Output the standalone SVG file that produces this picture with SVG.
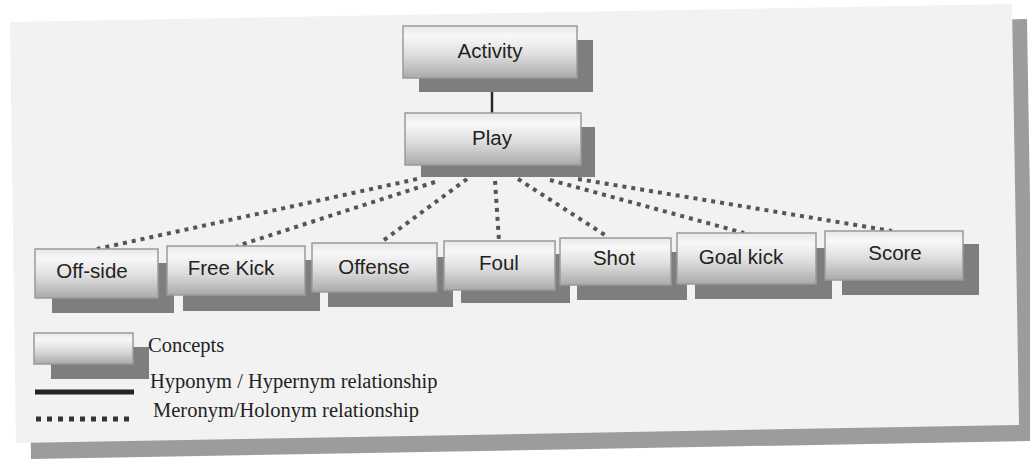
<svg xmlns="http://www.w3.org/2000/svg" width="1030" height="460" viewBox="0 0 1030 460">
  <defs>
    <linearGradient id="boxGrad" x1="0" y1="0" x2="0" y2="1">
      <stop offset="0" stop-color="#e8e8e8"/>
      <stop offset="0.2" stop-color="#f8f8f8"/>
      <stop offset="0.55" stop-color="#dedede"/>
      <stop offset="1" stop-color="#aaaaaa"/>
    </linearGradient>
    <style>
      .panel { fill: #f2f2f2; }
      .panelShadow { fill: #9c9c9c; }
      .shadow { fill: #7e7e7e; }
      .box { fill: url(#boxGrad); stroke: #9a9a9a; stroke-width: 1.5; }
      .label { font-family: "Liberation Sans", Arial, sans-serif; font-size: 20.5px; fill: #222; text-anchor: middle; }
      .legend { font-family: "Liberation Serif", "Times New Roman", serif; font-size: 20.5px; fill: #222; }
      .solid { stroke: #2a2a2a; stroke-width: 2.5; fill: none; }
      .dotted { stroke: #555; stroke-width: 4; stroke-dasharray: 4 5; fill: none; }
    </style>
  </defs>

  <rect width="1030" height="460" fill="#ffffff"/>

  <g id="panel">
    <polygon class="panelShadow" points="25,38 1027,19 1034,441 31,459"/>
    <polygon class="panel" points="10,22 1012,4 1019,425 16,443"/>
  </g>

  <g id="connectors">
    <line class="solid" x1="492" y1="78" x2="492" y2="113"/>
    <line class="dotted" x1="417" y1="179" x2="97" y2="249"/>
    <line class="dotted" x1="435" y1="182" x2="237" y2="246"/>
    <line class="dotted" x1="467" y1="179" x2="380" y2="243"/>
    <line class="dotted" x1="495" y1="181" x2="499" y2="241"/>
    <line class="dotted" x1="518" y1="179" x2="608" y2="237"/>
    <line class="dotted" x1="550" y1="180" x2="744" y2="233"/>
    <line class="dotted" x1="578" y1="179" x2="892" y2="231"/>
  </g>

  <g id="node-activity">
    <rect class="shadow" x="419" y="40" width="174" height="52"/>
    <rect class="box" x="403" y="26" width="174" height="52"/>
    <text class="label" x="490" y="58">Activity</text>
  </g>

  <g id="node-play">
    <rect class="shadow" x="421" y="127" width="174" height="50"/>
    <rect class="box" x="405" y="113" width="176" height="52"/>
    <text class="label" x="492" y="145">Play</text>
  </g>

  <g id="node-offside">
    <rect class="shadow" x="52" y="263" width="122" height="50"/>
    <rect class="box" x="35" y="249" width="123" height="49"/>
    <text class="label" x="92" y="278">Off-side</text>
  </g>

  <g id="node-freekick">
    <rect class="shadow" x="183" y="260" width="137" height="51"/>
    <rect class="box" x="167" y="246" width="138" height="49"/>
    <text class="label" x="231" y="275">Free Kick</text>
  </g>

  <g id="node-offense">
    <rect class="shadow" x="328" y="257" width="125" height="50"/>
    <rect class="box" x="312" y="243" width="125" height="49"/>
    <text class="label" x="374" y="274">Offense</text>
  </g>

  <g id="node-foul">
    <rect class="shadow" x="461" y="254" width="109" height="49"/>
    <rect class="box" x="444" y="241" width="111" height="49"/>
    <text class="label" x="499" y="270">Foul</text>
  </g>

  <g id="node-shot">
    <rect class="shadow" x="577" y="252" width="110" height="48"/>
    <rect class="box" x="560" y="238" width="111" height="47"/>
    <text class="label" x="614" y="265">Shot</text>
  </g>

  <g id="node-goalkick">
    <rect class="shadow" x="695" y="248" width="137" height="51"/>
    <rect class="box" x="677" y="233" width="139" height="51"/>
    <text class="label" x="741" y="264">Goal kick</text>
  </g>

  <g id="node-score">
    <rect class="shadow" x="842" y="244" width="137" height="51"/>
    <rect class="box" x="825" y="231" width="138" height="49"/>
    <text class="label" x="895" y="260">Score</text>
  </g>

  <g id="legend">
    <rect class="shadow" x="51" y="347" width="98" height="32"/>
    <rect class="box" x="34" y="333" width="99" height="31"/>
    <text class="legend" x="148" y="352">Concepts</text>
    <line x1="35" y1="392" x2="134" y2="392" stroke="#222" stroke-width="5"/>
    <text class="legend" x="150" y="388">Hyponym / Hypernym relationship</text>
    <line x1="36" y1="419" x2="130" y2="419" stroke="#333" stroke-width="5" stroke-dasharray="5 6"/>
    <text class="legend" x="153" y="417">Meronym/Holonym relationship</text>
  </g>
</svg>
